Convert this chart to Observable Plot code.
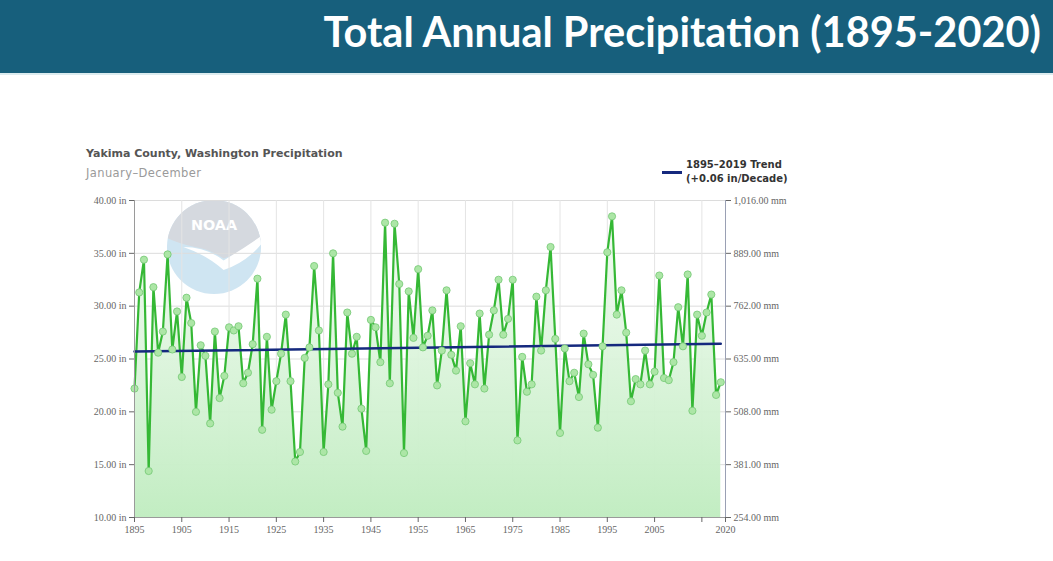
<!DOCTYPE html>
<html lang="en">
<head>
<meta charset="utf-8">
<title>Total Annual Precipitation (1895-2020)</title>
<script src="https://cdn.jsdelivr.net/npm/d3@7"></script>
<script src="https://cdn.jsdelivr.net/npm/@observablehq/plot@0.6"></script>
<style>
  body {
    margin: 0;
    width: 1053px;
    height: 561px;
    position: relative;
    overflow: hidden;
    background: #fff;
  }

  #banner {
    position: absolute;
    left: 0;
    top: 0;
    width: 1053px;
    height: 73px;
    background: #175f7c;
    border-bottom: 2px solid #dcecef;
  }

  #banner h1 {
    position: absolute;
    right: 12px;
    top: 6px;
    margin: 0;
    font-family: Lato, sans-serif;
    font-weight: 700;
    font-size: 41.5px;
    color: #fff;
    white-space: nowrap;
  }

  #title {
    position: absolute;
    left: 86px;
    top: 147px;
    margin: 0;
    font-family: 'DejaVu Sans', sans-serif;
    font-weight: bold;
    font-size: 11px;
    color: #555;
  }

  #subtitle {
    position: absolute;
    left: 86px;
    top: 166px;
    margin: 0;
    font-family: 'DejaVu Sans', sans-serif;
    font-size: 11.5px;
    letter-spacing: 0.4px;
    color: #9a9a9a;
  }

  #legend {
    position: absolute;
    left: 662px;
    top: 158px;
    font-family: 'DejaVu Sans', sans-serif;
    font-weight: bold;
    font-size: 10px;
    line-height: 14px;
    color: #333;
  }

  #legend .swatch {
    position: absolute;
    left: 0;
    top: 13px;
    width: 20px;
    height: 3px;
    background: #15297e;
  }

  #legend .text {
    margin-left: 24px;
  }

  #logo {
    position: absolute;
    left: 166px;
    top: 199px;
    z-index: 0;
  }

  #graphic {
    position: absolute;
    left: 60px;
    top: 190px;
    z-index: 1;
  }
</style>
</head>
<body>
  <div id="banner"><h1>Total Annual Precipitation (1895-2020)</h1></div>
  <div id="title">Yakima County, Washington Precipitation</div>
  <div id="subtitle">January–December</div>
  <div id="legend"><div class="swatch"></div><div class="text">1895–2019 Trend<br>(+0.06 in/Decade)</div></div>

  <svg id="logo" width="96" height="96" viewBox="0 0 100 100">
    <defs>
      <clipPath id="logoClip"><circle cx="50" cy="50" r="49"></circle></clipPath>
    </defs>
    <g clip-path="url(#logoClip)">
      <rect x="0" y="0" width="100" height="100" fill="#cfe5f2"></rect>
      <path d="M0 0 H100 V42 Q80 56 60 62 Q45 52 30 50 Q12 46 0 40 Z" fill="#d5d9df"></path>
      <path d="M18 50 Q42 50 60 64 Q80 52 100 38 V46 Q84 66 60 74 Q42 58 18 50 Z" fill="#ffffff"></path>
    </g>
    <text x="50" y="32" text-anchor="middle" font-family="DejaVu Sans" font-weight="bold" font-size="15" fill="#ffffff">NOAA</text>
  </svg>

  <div id="graphic"></div>

<script>
  // annual totals, inches
  const years = d3.range(1895, 2020);
  const precipIn = [
    22.2, 31.3, 34.4, 14.4, 31.8, 25.6, 27.6, 34.9, 25.9, 29.5,
    23.3, 30.8, 28.4, 20.0, 26.3, 25.3, 18.9, 27.6, 21.3, 23.4,
    28.0, 27.7, 28.1, 22.7, 23.7, 26.4, 32.6, 18.3, 27.1, 20.2,
    22.9, 25.5, 29.2, 22.9, 15.3, 16.2, 25.1, 26.1, 33.8, 27.7,
    16.2, 22.6, 35.0, 21.8, 18.6, 29.4, 25.5, 27.1, 20.3, 16.3,
    28.7, 28.0, 24.7, 37.9, 22.7, 37.8, 32.1, 16.1, 31.4, 27.0,
    33.5, 26.1, 27.2, 29.6, 22.5, 25.8, 31.5, 25.4, 23.9, 28.1,
    19.1, 24.6, 22.6, 29.3, 22.2, 27.3, 29.6, 32.5, 27.3, 28.8,
    32.5, 17.3, 25.2, 21.9, 22.6, 30.9, 25.8, 31.5, 35.6, 26.9,
    18.0, 26.0, 22.9, 23.7, 21.4, 27.4, 24.5, 23.5, 18.5, 26.2,
    35.1, 38.5, 29.2, 31.5, 27.5, 21.0, 23.1, 22.6, 25.8, 22.6,
    23.8, 32.9, 23.2, 23.0, 24.7, 29.9, 26.2, 33.0, 20.1, 29.2,
    27.2, 29.4, 31.1, 21.6, 22.8
  ];

  // trend line end points
  const trendYears = [1895, 2019];
  const trendIn = [25.7, 26.45];

  const inTicks = [10, 15, 20, 25, 30, 35, 40];
  const yearTicks = [1895, 1905, 1915, 1925, 1935, 1945, 1955, 1965, 1975, 1985, 1995, 2005, 2015, 2020];
  const hiddenYearLabels = [2015];

  const data = years.map((year, i) => ({year, value: precipIn[i]}));
  const trend = trendYears.map((year, i) => ({year, value: trendIn[i]}));
  const baseline = inTicks[0];

  function fillGradient() {
    const defs = d3.create("svg:defs");
    const g = defs.append("linearGradient")
      .attr("id", "precipFill")
      .attr("x1", 0).attr("y1", 0).attr("x2", 0).attr("y2", 1);
    g.append("stop").attr("offset", "0%").attr("stop-color", "#f0faf0").attr("stop-opacity", 0.85);
    g.append("stop").attr("offset", "100%").attr("stop-color", "#c2edc2");
    return defs.node();
  }

  const options = {
    width: 740,
    height: 355,
    marginLeft: 74,
    marginRight: 75,
    marginTop: 10,
    marginBottom: 28,
    style: {background: "transparent", fontFamily: "'Liberation Serif', serif", fontSize: "10px", color: "#666"},
    x: {domain: [1895, 2020]},
    y: {domain: [10, 40]},
    marks: [
      fillGradient,
      Plot.gridY(inTicks, {stroke: "#dcdcdc", strokeOpacity: 1}),
      Plot.gridX(yearTicks, {stroke: "#e4e4e4", strokeOpacity: 1}),
      Plot.areaY(data, {x: "year", y1: baseline, y2: "value", fill: "url(#precipFill)"}),
      Plot.line(data, {x: "year", y: "value", stroke: "#35b835", strokeWidth: 2.2}),
      Plot.line(trend, {x: "year", y: "value", stroke: "#15297e", strokeWidth: 2.5}),
      Plot.dot(data, {x: "year", y: "value", r: 3.6, fill: "#acE6a6", stroke: "#74c874", strokeWidth: 0.8}),
      Plot.ruleX([1895], {stroke: "#9a9a9a"}),
      Plot.ruleX([2020], {stroke: "#9aa0b4"}),
      Plot.ruleY([baseline], {stroke: "#9a9a9a"}),
      Plot.axisY(inTicks, {anchor: "left", tickSize: 5, tickPadding: 3, label: null,
        tickFormat: d => d.toFixed(2) + " in"}),
      Plot.axisY(inTicks, {anchor: "right", tickSize: 5, tickPadding: 3, label: null,
        tickFormat: d => d3.format(",.2f")(d * 25.4) + " mm"}),
      Plot.axisX(yearTicks, {tickSize: 5, tickPadding: 3, label: null,
        tickFormat: d => hiddenYearLabels.includes(d) ? "" : String(d)})
    ]
  };

  document.getElementById("graphic").appendChild(Plot.plot(options));
</script>
</body>
</html>
